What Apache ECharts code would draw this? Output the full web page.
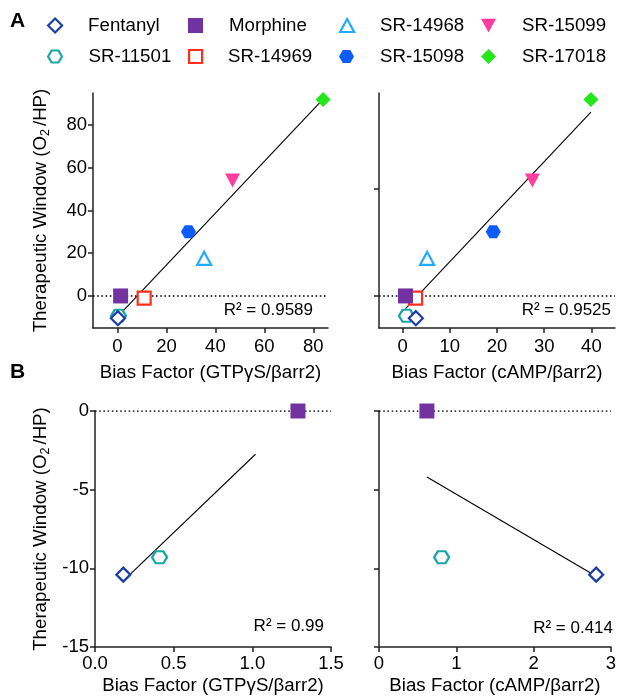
<!DOCTYPE html>
<html>
<head>
<meta charset="utf-8">
<script src="https://cdn.jsdelivr.net/npm/echarts@6/dist/echarts.min.js"></script>
<style>
html,body{margin:0;padding:0;background:#fff;}
#chart{width:619px;height:696px;}
</style>
</head>
<body>
<div id="chart"></div>
<script>
// ---- data ----
const compounds = ['Fentanyl','Morphine','SR-14968','SR-15099','SR-11501','SR-14969','SR-15098','SR-17018'];
const therapeuticWindow = [-10.4, 0, 17.6, 54, -9.3, -1, 30, 92];
const biasGTPyS = [0.18, 1.29, 35.4, 47, 0.41, 10.9, 29, 84];
const biasCAMP = [2.81, 0.62, 5.2, 27.5, 0.81, 2.75, 19.2, 39.9];
const panelBCompounds = ['Fentanyl','Morphine','SR-11501'];
const fitA_GTPyS = [[0.18, -9.56], [84, 92.1]];
const fitA_CAMP = [[0.62, -5.9], [39.9, 86.1]];
const fitB_GTPyS = [[0.18, -10.8], [1.02, -2.75]];
const fitB_CAMP = [[0.62, -4.2], [2.81, -10.5]];
const r2Labels = ['0.9589', '0.9525', '0.99', '0.414'];
const ticksA_GTPyS = [0, 20, 40, 60, 80];
const ticksA_CAMP = [0, 10, 20, 30, 40];
const ticksA_Y = [0, 20, 40, 60, 80];
const ticksA_Yright = [0, 50];
const ticksB_GTPyS = [0, 0.5, 1, 1.5];
const ticksB_CAMP = [0, 1, 2, 3];
const ticksB_Y = [-15, -10, -5, 0];

// ---- styles ----
const FF = "'Liberation Sans', Arial, Helvetica, sans-serif";
const HEX = 'path://M0,5 L2.887,0 L8.66,0 L11.547,5 L8.66,10 L2.887,10 Z';
const DOWN_TRI = 'path://M0,0 L12,0 L6,11 Z';
const styles = {
  'Fentanyl': {symbol:'diamond', size:[14,14], empty:true, color:'#1c3ca8', z:6},
  'Morphine': {symbol:'rect', size:[15,15], empty:false, color:'#7232a0', z:5},
  'SR-14968': {symbol:'triangle', size:[14,13], empty:true, color:'#22aaff', z:4},
  'SR-15099': {symbol:DOWN_TRI, size:[15,14], empty:false, color:'#ff3d9c', z:4},
  'SR-11501': {symbol:HEX, size:[15,12], empty:true, color:'#1aa6a6', z:4},
  'SR-14969': {symbol:'rect', size:[13,13], empty:true, color:'#ff2e1f', z:3},
  'SR-15098': {symbol:HEX, size:[15,13], empty:false, color:'#0a5cff', z:4},
  'SR-17018': {symbol:'diamond', size:[15,15], empty:false, color:'#22e81a', z:4}
};
function itemStyleFor(s){
  return s.empty ? {color:'#fff', borderColor:s.color, borderWidth:2.2, opacity:1}
                 : {color:s.color, borderWidth:0, opacity:1};
}

// ---- axes ----
const axisLineStyle = {color:'#222', width:1.5};
function mkAxis(gridIndex, min, max, ticks, opts){
  opts = opts || {};
  return {
    type:'value', gridIndex, min, max,
    name: opts.name || '', nameLocation:'middle', nameGap: opts.nameGap || 32,
    nameRotate: opts.nameRotate,
    nameTextStyle:{fontSize:18.7, color:'#000', fontFamily:FF, rich: opts.rich},
    axisLine:{show:true, onZero:false, lineStyle:axisLineStyle},
    axisTick:{show:true, length:5, lineStyle:axisLineStyle, customValues:ticks},
    axisLabel:{show: opts.labels !== false, customValues:ticks, fontSize:18.5, color:'#000', fontFamily:FF,
               margin: opts.margin || 8, formatter: opts.fmt},
    splitLine:{show:false}
  };
}
const yRich = {a:{fontSize:18.7, fontFamily:FF, color:'#000'}, s:{fontSize:12.5, fontFamily:FF, color:'#000', verticalAlign:'bottom', padding:[9,3,0,0]}};
const yName = '{a|Therapeutic Window (O}{s|2}{a|/HP)}';

const grids = [
  {left:93, top:93, width:235, height:235},
  {left:379, top:93, width:236, height:235},
  {left:95, top:411, width:236, height:236},
  {left:379, top:411, width:237, height:236}
];
const xRanges = [[-10, 86], [-5, 45], [0, 1.5], [0, 3]];
const xAxes = [
  mkAxis(0, -10, 86, ticksA_GTPyS, {name:'Bias Factor (GTPγS/βarr2)', margin:9, nameGap:35}),
  mkAxis(1, -5, 45, ticksA_CAMP, {name:'Bias Factor (cAMP/βarr2)', margin:9, nameGap:35}),
  mkAxis(2, 0, 1.5, ticksB_GTPyS, {name:'Bias Factor (GTPγS/βarr2)', margin:7, nameGap:29, fmt:v=>v.toFixed(1)}),
  mkAxis(3, 0, 3, ticksB_CAMP, {name:'Bias Factor (cAMP/βarr2)', margin:7, nameGap:29})
];
const yAxes = [
  mkAxis(0, -15, 95, ticksA_Y, {name:yName, rich:yRich, nameRotate:90, nameGap:41, margin:6}),
  mkAxis(1, -15, 95, ticksA_Yright, {labels:false}),
  mkAxis(2, -15, 0, ticksB_Y, {name:yName, rich:yRich, nameRotate:90, nameGap:43, margin:6}),
  mkAxis(3, -15, 0, ticksB_Y, {labels:false})
];

// ---- series ----
const series = [];
const fits = [fitA_GTPyS, fitA_CAMP, fitB_GTPyS, fitB_CAMP];
fits.forEach((f, i) => {
  series.push({type:'line', xAxisIndex:i, yAxisIndex:i, data:f, symbol:'none', silent:true, z:1,
    lineStyle:{color:'#000', width:1.1}, animation:false});
  series.push({type:'line', xAxisIndex:i, yAxisIndex:i, data:[[xRanges[i][0],0],[xRanges[i][1],0]], symbol:'none', silent:true, z:1,
    lineStyle:{color:'#000', width:1.6, type:[1.6,2.6]}, animation:false});
});
const drawOrder = ['SR-14969','SR-11501','Morphine','Fentanyl','SR-14968','SR-15099','SR-15098','SR-17018'];
function addPanel(idx, xs, list){
  drawOrder.forEach(name => {
    if (list.indexOf(name) < 0) return;
    const k = compounds.indexOf(name);
    const s = styles[name];
    series.push({type:'scatter', name, xAxisIndex:idx, yAxisIndex:idx, z:s.z,
      data:[[xs[k], therapeuticWindow[k]]], symbol:s.symbol, symbolSize:s.size,
      itemStyle:itemStyleFor(s), animation:false});
  });
}
addPanel(0, biasGTPyS, compounds);
addPanel(1, biasCAMP, compounds);
addPanel(2, biasGTPyS, panelBCompounds);
addPanel(3, biasCAMP, panelBCompounds);

// ---- legends: 4 columns x 2 rows ----
const legendCols = [47, 188, 339, 481];
const legendRows = [16, 47];
const legends = compounds.map((name, i) => {
  const s = styles[name];
  return {
    left: legendCols[i % 4], top: legendRows[Math.floor(i / 4)], padding:0,
    itemWidth: s.size[0], itemHeight: s.size[1], selectedMode:false,
    textStyle:{fontSize:18.7, color:'#000', fontFamily:FF, padding:[0,0,0,21]},
    data:[{name, icon:s.symbol, itemStyle:itemStyleFor(s)}]
  };
});

// ---- annotations ----
const r2Pos = [[313, 312], [611, 312], [324, 628], [613, 630]];
const graphics = r2Labels.map((t, i) => ({
  type:'text', right: 619 - r2Pos[i][0], top: r2Pos[i][1] - 10,
  style:{text:'R² = ' + t, font:'17px ' + FF, fill:'#000'}
}));
graphics.push({type:'text', left:10, top:11, style:{text:'A', font:'bold 21px ' + FF, fill:'#000'}});
graphics.push({type:'text', left:10, top:362, style:{text:'B', font:'bold 21px ' + FF, fill:'#000'}});

const chart = echarts.init(document.getElementById('chart'), null, {renderer:'canvas'});
chart.setOption({
  animation:false,
  backgroundColor:'#fff',
  textStyle:{fontFamily:FF},
  grid:grids, xAxis:xAxes, yAxis:yAxes, series, legend:legends, graphic:graphics
});
</script>
</body>
</html>
